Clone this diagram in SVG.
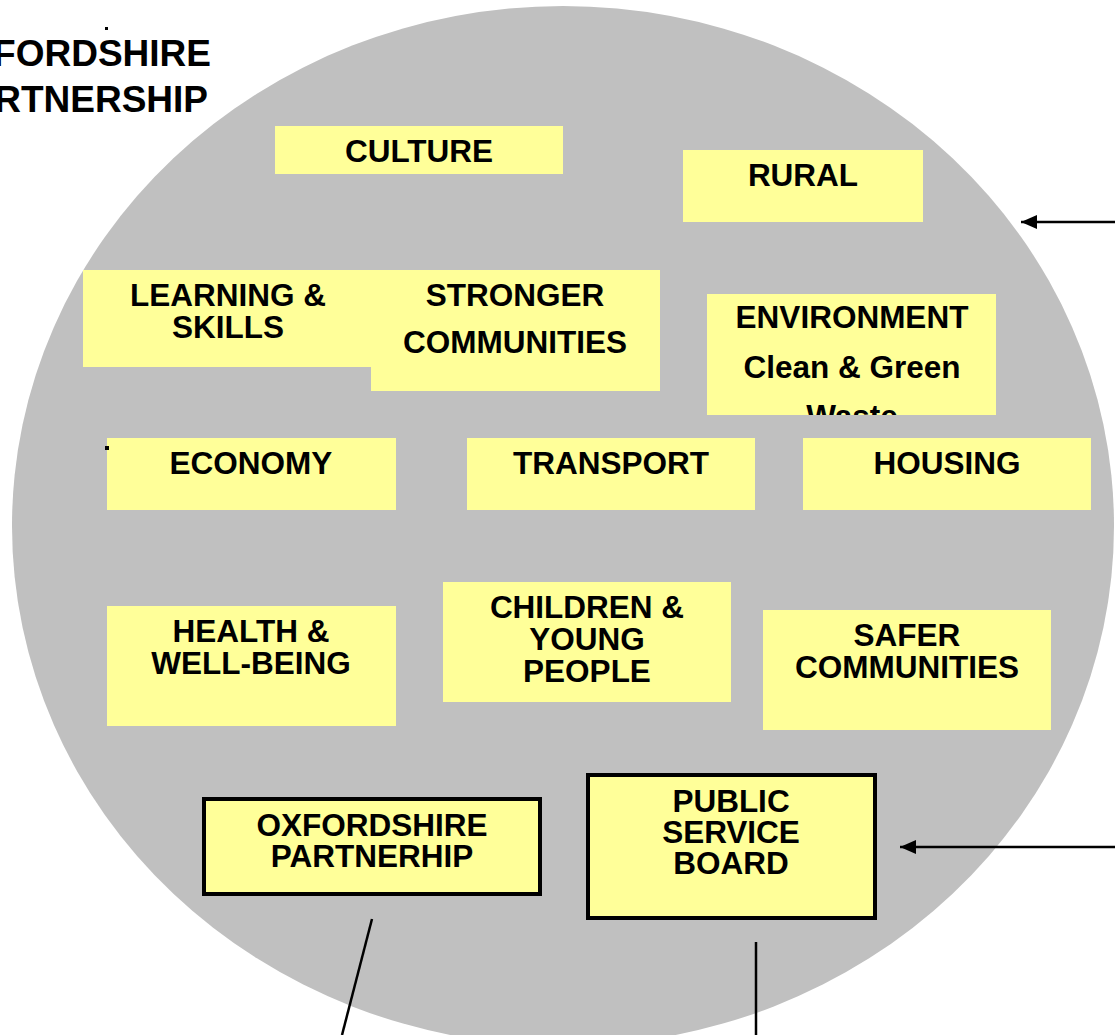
<svg xmlns="http://www.w3.org/2000/svg" width="1115" height="1035" viewBox="0 0 1115 1035">
  <defs>
    <style>
      .box { fill: #FFFF99; }
      .boxb { fill: #FFFF99; stroke: #000; stroke-width: 4; }
      .t { font-family: "Liberation Sans", Arial, sans-serif; font-weight: bold; font-size: 31.5px; fill: #000; text-anchor: middle; }
      .title { font-family: "Liberation Sans", Arial, sans-serif; font-weight: bold; font-size: 37px; fill: #000; text-anchor: end; }
      .conn { stroke: #000; stroke-width: 2.5; fill: none; }
    </style>
    <marker id="arr" viewBox="0 0 16 14" refX="16" refY="7" markerWidth="16" markerHeight="14" markerUnits="userSpaceOnUse" orient="auto">
      <path d="M0,0 L16,7 L0,14 z" fill="#000"/>
    </marker>
    <clipPath id="envclip">
      <rect x="707" y="294" width="289" height="121"/>
    </clipPath>
  </defs>

  <rect width="1115" height="1035" fill="#FFFFFF"/>

  <ellipse id="circle" cx="563" cy="526" rx="551" ry="520" fill="#C0C0C0"/>

  <g id="title">
    <rect x="105" y="27" width="3" height="3" fill="#000"/>
    <text class="title" x="211" y="66">OXFORDSHIRE</text>
    <text class="title" x="208" y="112">PARTNERSHIP</text>
  </g>

  <g id="culture">
    <rect class="box" x="275" y="126" width="288" height="48"/>
    <text class="t" x="419" y="162">CULTURE</text>
  </g>

  <g id="rural">
    <rect class="box" x="683" y="150" width="240" height="72"/>
    <text class="t" x="803" y="186">RURAL</text>
  </g>

  <g id="learning">
    <rect class="box" x="83" y="270" width="297" height="97"/>
    <text class="t" x="228" y="306">LEARNING &amp;</text>
    <text class="t" x="228" y="338">SKILLS</text>
  </g>

  <g id="stronger">
    <rect class="box" x="371" y="270" width="289" height="121"/>
    <text class="t" x="515" y="306">STRONGER</text>
    <text class="t" x="515" y="353">COMMUNITIES</text>
  </g>

  <g id="environment">
    <rect class="box" x="707" y="294" width="289" height="121"/>
    <g clip-path="url(#envclip)">
      <text class="t" x="852" y="328">ENVIRONMENT</text>
      <text class="t" x="852" y="378">Clean &amp; Green</text>
      <text class="t" x="852" y="427">Waste</text>
    </g>
  </g>

  <g id="economy">
    <rect class="box" x="107" y="438" width="289" height="72"/>
    <rect x="105" y="446" width="4" height="4" fill="#000"/>
    <text class="t" x="251" y="474">ECONOMY</text>
  </g>

  <g id="transport">
    <rect class="box" x="467" y="438" width="288" height="72"/>
    <text class="t" x="611" y="474">TRANSPORT</text>
  </g>

  <g id="housing">
    <rect class="box" x="803" y="438" width="288" height="72"/>
    <text class="t" x="947" y="474">HOUSING</text>
  </g>

  <g id="health">
    <rect class="box" x="107" y="606" width="289" height="120"/>
    <text class="t" x="251" y="642">HEALTH &amp;</text>
    <text class="t" x="251" y="674">WELL-BEING</text>
  </g>

  <g id="children">
    <rect class="box" x="443" y="582" width="288" height="120"/>
    <text class="t" x="587" y="618">CHILDREN &amp;</text>
    <text class="t" x="587" y="650">YOUNG</text>
    <text class="t" x="587" y="682">PEOPLE</text>
  </g>

  <g id="safer">
    <rect class="box" x="763" y="610" width="288" height="120"/>
    <text class="t" x="907" y="646">SAFER</text>
    <text class="t" x="907" y="678">COMMUNITIES</text>
  </g>

  <g id="oxfordshire-partnership">
    <rect class="boxb" x="204" y="799" width="336" height="95"/>
    <text class="t" x="372" y="836">OXFORDSHIRE</text>
    <text class="t" x="372" y="867">PARTNERHIP</text>
  </g>

  <g id="public-service-board">
    <rect class="boxb" x="588" y="775" width="287" height="143"/>
    <text class="t" x="731" y="812">PUBLIC</text>
    <text class="t" x="731" y="843">SERVICE</text>
    <text class="t" x="731" y="874">BOARD</text>
  </g>

  <g id="connectors">
    <line class="conn" x1="1115" y1="222" x2="1021" y2="222" marker-end="url(#arr)"/>
    <line class="conn" x1="1115" y1="847" x2="900" y2="847" marker-end="url(#arr)"/>
    <line class="conn" x1="372" y1="919" x2="342" y2="1035"/>
    <line class="conn" x1="756" y1="942" x2="756" y2="1035"/>
  </g>
</svg>
